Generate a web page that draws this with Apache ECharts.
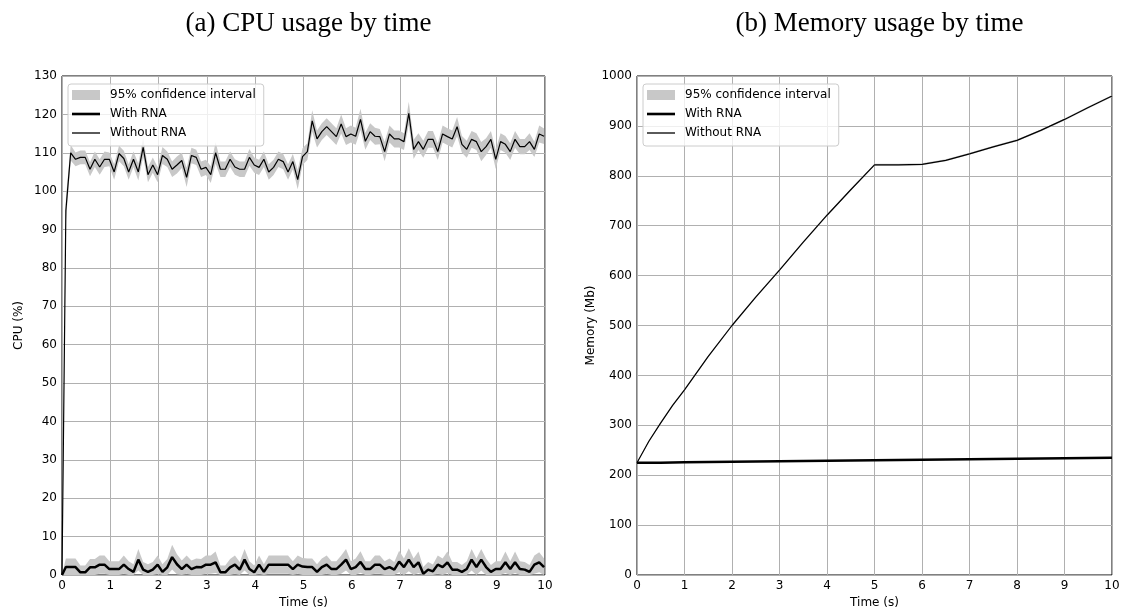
<!DOCTYPE html>
<html>
<head>
<meta charset="utf-8">
<script src="https://cdn.jsdelivr.net/npm/echarts@6/dist/echarts.min.js"></script>
<style>html,body{margin:0;padding:0;background:#fff}#c{width:1123px;height:610px}</style>
</head>
<body>
<div id="c"></div>
<script>
// ---------- CPU chart data ----------
const cpuTime = [0, 0.08, 0.18, 0.28, 0.38, 0.48, 0.58, 0.68, 0.78, 0.88, 0.98,
  1.08, 1.18, 1.28, 1.38, 1.48, 1.58, 1.68, 1.78, 1.88, 1.98,
  2.08, 2.18, 2.28, 2.38, 2.48, 2.58, 2.68, 2.78, 2.88, 2.98,
  3.08, 3.18, 3.28, 3.38, 3.48, 3.58, 3.68, 3.78, 3.88, 3.98,
  4.08, 4.18, 4.28, 4.38, 4.48, 4.58, 4.68, 4.78, 4.88, 4.98,
  5.08, 5.18, 5.28, 5.38, 5.48, 5.58, 5.68, 5.78, 5.88, 5.98,
  6.08, 6.18, 6.28, 6.38, 6.48, 6.58, 6.68, 6.78, 6.88, 6.98,
  7.08, 7.18, 7.28, 7.38, 7.48, 7.58, 7.68, 7.78, 7.88, 7.98,
  8.08, 8.18, 8.28, 8.38, 8.48, 8.58, 8.68, 8.78, 8.88, 8.98,
  9.08, 9.18, 9.28, 9.38, 9.48, 9.58, 9.68, 9.78, 9.88, 9.98];

const cpuWithout = [0, 95, 110, 108.3, 108.8, 108.8, 105.7, 108.3, 106.3, 108.3, 108.3,
  105, 109.8, 108.5, 105, 108.3, 105, 111.4, 104.3, 106.8, 104.3,
  109.3, 108.3, 105.7, 106.8, 108, 103.6, 109.3, 108.8, 105.7, 106.2,
  104.3, 110, 105.7, 105.7, 108.3, 106.3, 105.7, 105.7, 108.8, 106.8,
  106.2, 108.3, 105, 106.2, 108.3, 107.7, 105, 107.7, 103, 109,
  110.3, 118.3, 113.6, 115.5, 116.8, 115.5, 114.2, 117.5, 114.2, 114.9,
  114.3, 118.7, 113, 115.5, 114.3, 114.2, 110.3, 114.9, 113.6, 113.6,
  112.9, 120.3, 110.9, 112.9, 110.9, 113.5, 113.5, 110.3, 114.9, 114.2,
  113.6, 116.8, 112.2, 110.9, 113.5, 112.9, 110.3, 111.6, 113.5, 108.3,
  112.9, 112.2, 110.3, 113.5, 111.6, 111.6, 112.9, 110.9, 114.9, 114.3];

const cpuWithoutCI = [0, 3, 2, 1.8, 1.8, 1.8, 1.8, 2, 2, 2, 1.8,
  2, 2, 2, 2, 2, 2.2, 2.5, 2, 2, 2,
  2.2, 2, 2, 2.2, 2, 2.5, 2, 2, 2, 2,
  2.2, 2.8, 2, 2, 2, 2, 2, 2, 2.2, 2,
  2, 2, 2, 2, 2, 2, 2, 2, 2.5, 2.2,
  2.2, 2.8, 2.2, 2.2, 2.2, 2.2, 2.2, 2.5, 2.2, 2.2,
  2.2, 2.8, 2.2, 2.2, 2.2, 2, 2.5, 2.2, 2.2, 2.2,
  2.2, 3, 2.5, 2.2, 2.2, 2.2, 2.2, 2.2, 2.2, 2.2,
  2.2, 2.5, 2.2, 2.2, 2.2, 2.2, 2.5, 2.2, 2.2, 2.5,
  2.2, 2.2, 2.2, 2.2, 2, 2, 2.2, 2, 2.2, 2];

const cpuWith = [0, 2.07, 2.07, 2.07, 0.7, 0.7, 2, 2, 2.7, 2.7, 1.55,
  1.55, 1.55, 2.7, 1.55, 0.8, 4, 1.4, 0.8, 1.4, 2.7,
  0.8, 2, 4.65, 2.8, 1.55, 2.7, 1.55, 2.07, 2, 2.7,
  2.7, 3.3, 0.7, 0.7, 2, 2.7, 1.4, 4, 1.55, 0.7,
  2.7, 0.8, 2.7, 2.7, 2.7, 2.7, 2.7, 1.55, 2.7, 2.2,
  2.07, 2.07, 0.8, 2.07, 2.7, 1.55, 1.55, 2.7, 4, 1.55,
  2.07, 3.4, 1.55, 1.55, 2.7, 2.7, 1.55, 2.07, 1.4, 3.5,
  2.07, 4, 2.07, 3.3, 0.3, 1.4, 0.95, 2.7, 2.07, 3.3,
  1.4, 1.4, 0.8, 1.55, 4, 2.07, 4, 2.07, 0.8, 1.55,
  1.55, 3.3, 1.55, 3.3, 1.55, 1.4, 0.8, 2.7, 3.3, 2.07];

const cpuWithCI = [0, 2.2, 2.2, 2.2, 1.8, 1.8, 2.2, 2.2, 2.4, 2.4, 2,
  2, 2, 2.4, 2, 2, 2.8, 2, 2, 2, 2.4,
  2, 2.2, 3.2, 2.6, 2.2, 2.4, 2.2, 2.2, 2.2, 2.4,
  2.4, 2.8, 1.8, 1.8, 2.2, 2.4, 2, 2.8, 2, 1.8,
  2.4, 2, 2.4, 2.4, 2.4, 2.4, 2.4, 2, 2.4, 2.2,
  2.2, 2.2, 2, 2.2, 2.4, 2, 2, 2.4, 2.8, 2,
  2.2, 2.8, 2, 2, 2.4, 2.4, 2, 2.2, 2, 2.8,
  2.2, 3, 2.2, 2.8, 1.8, 2, 1.8, 2.4, 2.2, 2.8,
  2, 2, 1.8, 2, 2.8, 2.2, 2.8, 2.2, 1.8, 2,
  2, 2.8, 2, 2.8, 2, 2, 1.8, 2.4, 2.6, 2.2];

// ---------- Memory chart data ----------
const memTime = [0, 0.25, 0.5, 0.75, 1, 1.5, 2, 2.5, 3, 3.5, 4, 4.5, 5, 5.5, 6, 6.5, 7, 7.5, 8, 8.5, 9, 9.5, 10];
const memWithout = [225, 268, 305, 340, 371, 438, 500, 557, 611, 667, 721, 772, 822, 822, 823, 831, 844, 858, 871, 891, 913, 937, 960];
const memWithoutCI = [1, 2, 2, 2, 2, 2, 2, 2, 2, 2, 2, 2, 2, 2, 2, 2, 2, 2, 2, 2, 2, 2, 2];
const memWith = [225, 225, 225, 225.5, 226, 226.5, 227, 227.5, 228, 228.5, 229, 229.5, 230, 230.5, 231, 231.5, 232, 232.5, 233, 233.5, 234, 234.5, 235];
const memWithCI = [1, 1, 1, 1, 1, 1, 1, 1, 1, 1, 1, 1, 1, 1, 1, 1, 1, 1, 1, 1, 1, 1, 1];

// ---------- Axis ticks / labels ----------
const timeTicks = { min: 0, max: 10, interval: 1 };
const cpuTicks = { min: 0, max: 130, interval: 10 };
const memTicks = { min: 0, max: 1000, interval: 100 };
const titles = ['(a) CPU usage by time', '(b) Memory usage by time'];
const names = { band: '95% confidence interval', with: 'With RNA', without: 'Without RNA' };

// ---------- build ----------
const FONT = 'DejaVu Sans';
const BAND = '#c8c8c8';
const TITLE_SIZE = 27;

function pairs(xs, ys) { return xs.map((x, i) => [x, ys[i]]); }

function band(name, gi, xs, ys, ci, floor) {
  const lo = ys.map((v, i) => Math.max(floor, v - ci[i]));
  const hi = ys.map((v, i) => v + ci[i]);
  return {
    type: 'custom', name: name, xAxisIndex: gi, yAxisIndex: gi, silent: true, z: 1,
    itemStyle: { color: BAND },
    data: xs.map((x, i) => [x, lo[i], hi[i]]),
    encode: { x: 0, y: [1, 2] },
    renderItem: function (params, api) {
      if (params.dataIndex !== 0) return { type: 'group', children: [] };
      const pts = [];
      for (let i = 0; i < xs.length; i++) pts.push(api.coord([xs[i], hi[i]]));
      for (let i = xs.length - 1; i >= 0; i--) pts.push(api.coord([xs[i], lo[i]]));
      return { type: 'polygon', shape: { points: pts }, style: { fill: BAND, stroke: null } };
    }
  };
}

function line(name, gi, xs, ys, w) {
  return {
    type: 'line', name: name, xAxisIndex: gi, yAxisIndex: gi, data: pairs(xs, ys),
    symbol: 'none', showSymbol: false, smooth: false, z: 3, silent: true,
    lineStyle: { color: '#000', width: w }, itemStyle: { color: '#000' }
  };
}

function xAxis(gi) {
  return {
    type: 'value', gridIndex: gi, min: timeTicks.min, max: timeTicks.max, interval: timeTicks.interval,
    name: 'Time (s)', nameLocation: 'middle', nameGap: 21,
    nameTextStyle: { fontFamily: FONT, fontSize: 12, color: '#000' },
    axisLine: { show: false }, axisTick: { show: false },
    axisLabel: { fontFamily: FONT, fontSize: 12, color: '#000', margin: 5, formatter: v => String(v) },
    splitLine: { show: true, lineStyle: { color: '#b0b0b0', width: 1 } }
  };
}
function yAxis(gi, t, nm, gap) {
  return {
    type: 'value', gridIndex: gi, min: t.min, max: t.max, interval: t.interval,
    name: nm, nameLocation: 'middle', nameGap: gap, nameRotate: 90,
    nameTextStyle: { fontFamily: FONT, fontSize: 12, color: '#000' },
    axisLine: { show: false }, axisTick: { show: false },
    axisLabel: { fontFamily: FONT, fontSize: 12, color: '#000', margin: 5, formatter: v => String(v) },
    splitLine: { show: true, lineStyle: { color: '#b0b0b0', width: 1 } }
  };
}
const ICON_THICK = 'path://M0,0 L28,0 L28,2.6 L0,2.6 Z';
const ICON_THIN = 'path://M0,0 L28,0 L28,1.3 L0,1.3 Z';
function legend(left) {
  return {
    left: left, top: 84, orient: 'vertical',
    itemWidth: 28, itemHeight: 10, itemGap: 5,
    padding: [4, 8, 6, 4],
    symbolKeepAspect: true,
    backgroundColor: 'rgba(255,255,255,0.8)', borderColor: '#cccccc', borderWidth: 1, borderRadius: 3,
    textStyle: { fontFamily: FONT, fontSize: 12, color: '#000', lineHeight: 14, padding: [0, 0, 0, 5] },
    selectedMode: false,
    data: [
      { name: names.band, icon: 'rect' },
      { name: names.with, icon: ICON_THICK },
      { name: names.without, icon: ICON_THIN }
    ]
  };
}

const chart = echarts.init(document.getElementById('c'), null, { renderer: 'canvas' });
const titleStyle = { fontFamily: 'Liberation Serif', fontSize: TITLE_SIZE, fontWeight: 'normal', color: '#000' };
chart.setOption({
  animation: false,
  backgroundColor: '#fff',
  title: [
    { text: titles[0], left: 303.5, top: 5, textAlign: 'center', textStyle: titleStyle },
    { text: titles[1], left: 874.5, top: 5, textAlign: 'center', textStyle: titleStyle }
  ],
  grid: [
    { left: 62, top: 76, width: 483, height: 499, outerBoundsMode: 'none', containLabel: false, show: true, borderColor: '#000', borderWidth: 1, backgroundColor: 'transparent' },
    { left: 637, top: 76, width: 475, height: 499, outerBoundsMode: 'none', containLabel: false, show: true, borderColor: '#000', borderWidth: 1, backgroundColor: 'transparent' }
  ],
  xAxis: [xAxis(0), xAxis(1)],
  yAxis: [yAxis(0, cpuTicks, 'CPU (%)', 37), yAxis(1, memTicks, 'Memory (Mb)', 40)],
  legend: [legend(68), legend(643)],
  series: [
    band(names.band, 0, cpuTime, cpuWithout, cpuWithoutCI, 0),
    band(names.band, 0, cpuTime, cpuWith, cpuWithCI, 0),
    line(names.with, 0, cpuTime, cpuWith, 2.5),
    line(names.without, 0, cpuTime, cpuWithout, 1.2),
    band(names.band, 1, memTime, memWithout, memWithoutCI, 0),
    band(names.band, 1, memTime, memWith, memWithCI, 0),
    line(names.with, 1, memTime, memWith, 2.5),
    line(names.without, 1, memTime, memWithout, 1.2)
  ]
});
</script>
</body>
</html>
